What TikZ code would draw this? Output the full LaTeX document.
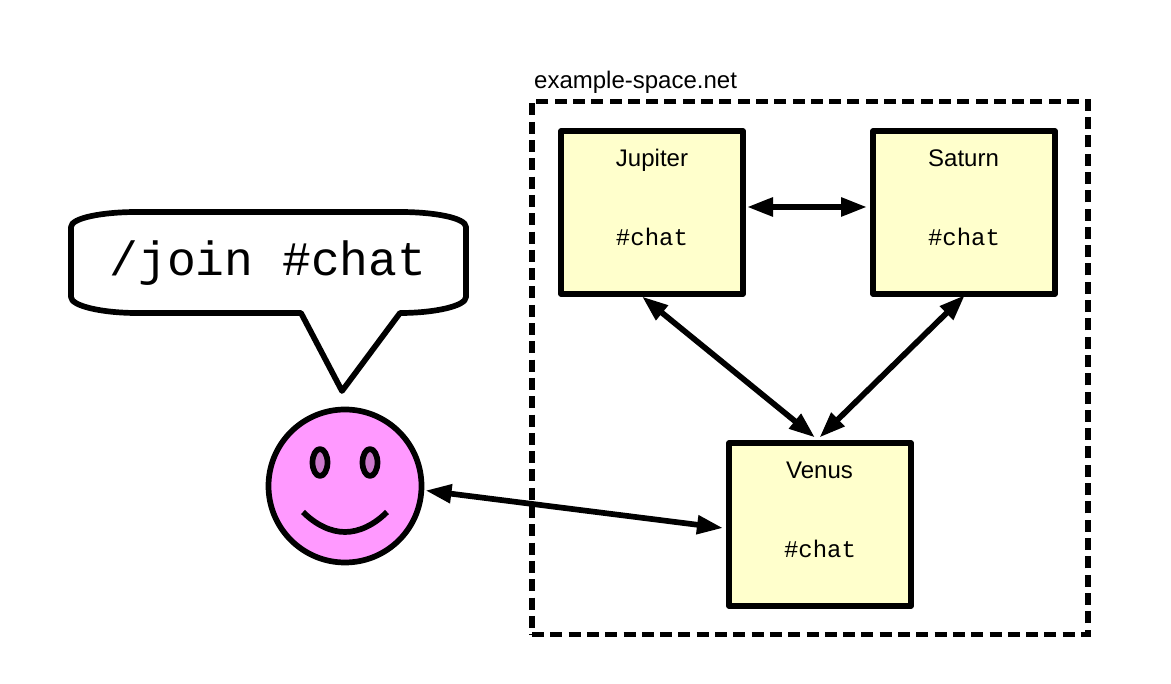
\documentclass[tikz,border=0pt]{standalone}
\usepackage{fontspec}
\setmainfont{Liberation Sans}
\setmonofont{Liberation Mono}
\usetikzlibrary{arrows.meta,calc,shapes.geometric}
\tikzset{
  stroke/.style={draw=black,line width=5.7pt,line join=round},
  hostbox/.style={stroke,fill=boxyellow,minimum width=182pt,minimum height=163pt,inner sep=0pt,outer sep=0pt},
  spacebox/.style={draw=black,line width=5.7pt,dash pattern=on 12pt off 6.3pt,minimum width=556pt,minimum height=533pt,inner sep=0pt,outer sep=0pt},
  lbl/.style={inner sep=0pt,anchor=base,font=\fontsize{24}{28}\selectfont},
  chan/.style={inner sep=0pt,anchor=base,font=\fontsize{24}{28}\selectfont\ttfamily},
  link/.style={draw=black,line width=5.7pt,{Triangle[length=26pt,width=18pt]}-{Triangle[length=26pt,width=18pt]}},
  eye/.style={ellipse,stroke,fill=eyepurple,minimum width=15pt,minimum height=27pt,inner sep=0pt,outer sep=0pt},
}
\definecolor{boxyellow}{HTML}{FFFFCC}
\definecolor{facepink}{HTML}{FF99FF}
\definecolor{eyepurple}{HTML}{CC7ACC}
\begin{document}
\begin{tikzpicture}[x=1pt,y=-1pt]
\useasboundingbox (0,0) rectangle (1171,684);
% network boundary
\node[spacebox] (space) at (810,368) {};
\node[lbl,anchor=base west] (spacelabel) at (534,88.5) {example-space.net};
% hosts
\node[hostbox] (jup) at (652,212.5) {};
\node[hostbox] (sat) at (964,212.5) {};
\node[hostbox] (ven) at (820,524.5) {};
\node[lbl] (juptitle) at (652,167) {Jupiter};
\node[chan] (jupchat) at (652,246) {\#chat};
\node[lbl] (sattitle) at (963.5,167) {Saturn};
\node[chan] (satchat) at (964,246) {\#chat};
\node[lbl] (ventitle) at (819.5,479) {Venus};
\node[chan] (venchat) at (820,558) {\#chat};
% speech bubble
\draw[stroke,fill=white] (137,212) -- (400,212)
  .. controls (435,212) and (466,218) .. (466,227) -- (466,297)
  .. controls (466,306) and (435,313) .. (400,313)
  -- (342,391) -- (301,313) -- (137,313)
  .. controls (102,313) and (71,306) .. (71,297) -- (71,227)
  .. controls (71,218) and (102,212) .. (137,212) -- cycle;
\node[inner sep=0pt,anchor=base,font=\fontsize{48}{54}\selectfont\ttfamily] (cmd) at (268,276) {/join \#chat};
% smiley
\node[circle,stroke,fill=facepink,minimum size=153pt,inner sep=0pt,outer sep=0pt] (face) at (345,486) {};
\node[eye] (eyeleft) at (320,462.5) {};
\node[eye] (eyeright) at (370,462.5) {};
\coordinate (mouthl) at (303,512);
\coordinate (mouthr) at (387,512);
\draw[draw=black,line width=5.7pt] (mouthl) .. controls (316,525) and (331,532) .. (345,532) .. controls (359,532) and (374,525) .. (mouthr);
% links
\draw[link] ($(jup.east)+(4,-5.5)$) -- ($(sat.west)+(-6,-5.5)$);
\draw[link] ($(jup.south)+(-10,2.5)$) -- ($(ven.north)+(-5,-5.5)$);
\draw[link] ($(sat.south)+(1,1)$) -- ($(ven.north)+(-0.5,-5.5)$);
\draw[link] ($(face.center)+(80.5,4.5)$) -- ($(ven.west)+(-6,3.5)$);
\end{tikzpicture}
\end{document}
